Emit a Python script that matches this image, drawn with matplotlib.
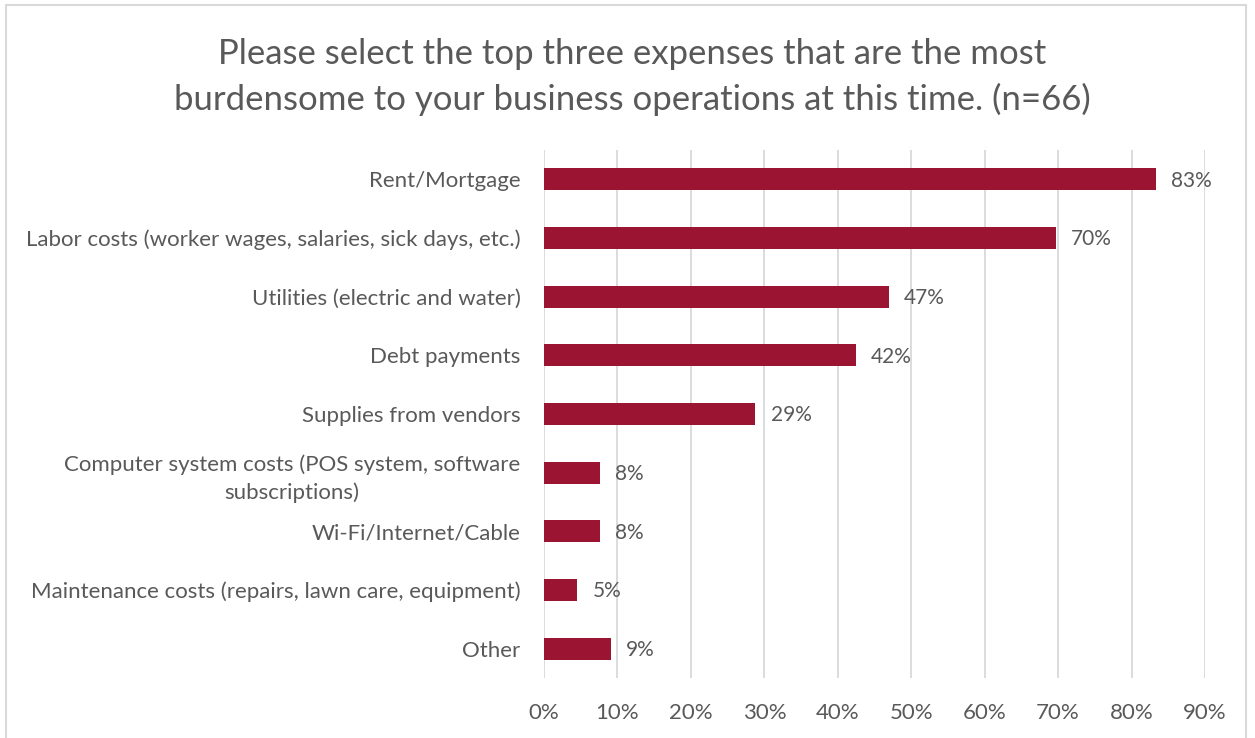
import matplotlib
matplotlib.use("Agg")
import matplotlib.pyplot as plt
from matplotlib.patches import Rectangle
from matplotlib.ticker import MultipleLocator, PercentFormatter

plt.rcParams["font.family"] = ["Lato", "DejaVu Sans"]

# Survey responses (number of respondents choosing each expense)
categories = [
    "Rent/Mortgage",
    "Labor costs (worker wages, salaries, sick days, etc.)",
    "Utilities (electric and water)",
    "Debt payments",
    "Supplies from vendors",
    "Computer system costs (POS system, software\nsubscriptions)",
    "Wi-Fi/Internet/Cable",
    "Maintenance costs (repairs, lawn care, equipment)",
    "Other",
]
counts = [55, 46, 31, 28, 19, 5, 5, 3, 6]
n_respondents = 66
shares = [c / n_respondents for c in counts]

title = ("Please select the top three expenses that are the most\n"
         "burdensome to your business operations at this time. (n=66)")

bar_color = "#9B1533"
text_color = "#595959"
grid_color = "#D9D9D9"

fig = plt.figure(figsize=(12.55, 7.38), dpi=100)
fig.patch.set_facecolor("white")
fig.add_artist(Rectangle((6 / 1255, -0.01), 1240 / 1255, 1 - 5 / 738 + 0.01,
                         transform=fig.transFigure, fill=False,
                         edgecolor="#D9D9D9", linewidth=1.5))

ax = fig.add_axes([544 / 1255, 60 / 738, 661 / 1255, 528 / 738])
ypos = list(range(len(categories)))
ax.barh(ypos, shares, height=0.37, color=bar_color, zorder=3)

for y, s in zip(ypos, shares):
    ax.annotate(f"{s:.0%}", xy=(s, y), xytext=(11, -1), textcoords="offset points",
                ha="left", va="center", fontsize=15, color=text_color)

ax.set_xlim(0, 0.9)
ax.set_ylim(len(categories) - 0.5, -0.5)
ax.xaxis.set_major_locator(MultipleLocator(0.1))
ax.xaxis.set_major_formatter(PercentFormatter(1.0, decimals=0))
ax.set_yticks(ypos)
ax.set_yticklabels(categories, ha="right", multialignment="center")
for lbl in ax.get_yticklabels():
    lbl.set_linespacing(1.45)
ax.tick_params(axis="both", length=0, labelsize=16, labelcolor=text_color)
ax.tick_params(axis="x", pad=18)
ax.tick_params(axis="y", pad=17)
ax.grid(axis="x", color=grid_color, linewidth=1.3, zorder=0)
for sp in ax.spines.values():
    sp.set_visible(False)

fig.text(0.504, 0.896, title, ha="center", va="center", fontsize=25,
         color=text_color, linespacing=1.47)

fig.savefig("out.png", dpi=100)
